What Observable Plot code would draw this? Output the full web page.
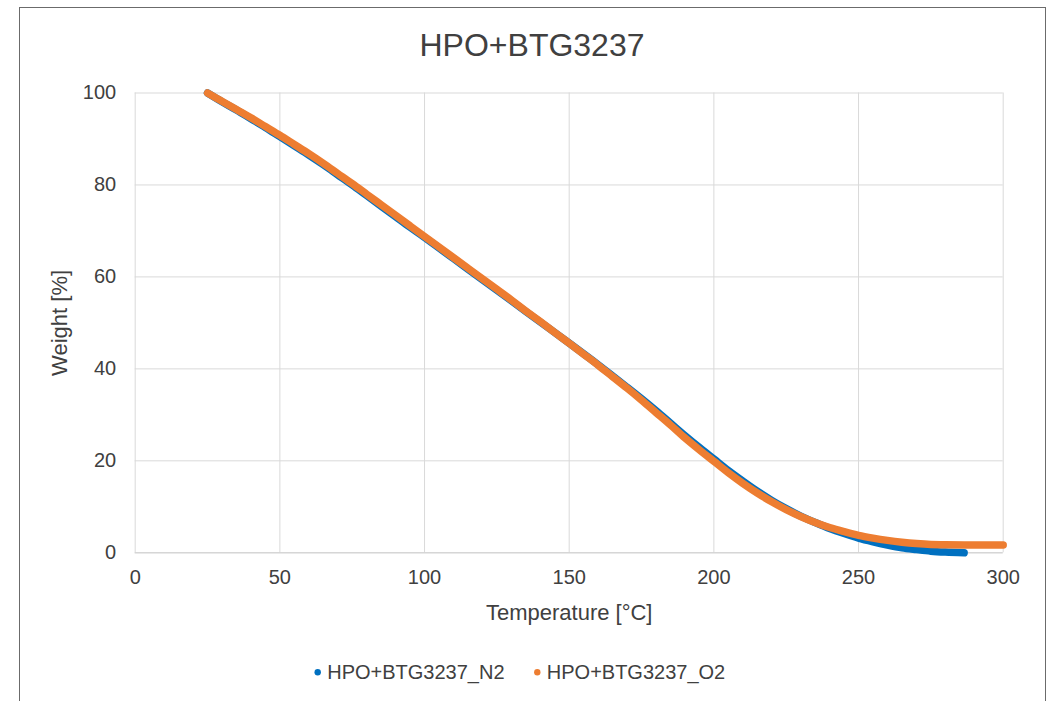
<!DOCTYPE html>
<html>
<head>
<meta charset="utf-8">
<script src="https://cdn.jsdelivr.net/npm/d3@7"></script>
<script src="https://cdn.jsdelivr.net/npm/@observablehq/plot@0.6"></script>
<style>
  html, body { margin: 0; padding: 0; background: #fff; }
  #chart { position: relative; width: 1052px; height: 701px; overflow: hidden; }
</style>
</head>
<body>
<div id="chart"></div>
<script>
// TGA curves: residual weight vs. temperature, under nitrogen and under oxygen
const chartTitle = "HPO+BTG3237";
const xLabel = "Temperature [°C]";
const yLabel = "Weight [%]";
const seriesNames = ["HPO+BTG3237_N2", "HPO+BTG3237_O2"];
const seriesColors = ["#0070C0", "#ED7D31"];

const xTicks = [0, 50, 100, 150, 200, 250, 300];
const yTicks = [0, 20, 40, 60, 80, 100];

// Nitrogen run
const tempN2 = [25, 30, 35, 40, 45, 50, 55, 60, 65, 70, 75, 80, 85, 90, 95, 100,
  110, 120, 130, 140, 150, 160, 170, 175, 180, 185, 190, 195, 200, 205, 210, 215,
  220, 225, 230, 235, 240, 245, 250, 255, 260, 265, 270, 275, 280, 286.5];
const weightN2 = [100, 98.1, 96.3, 94.4, 92.5, 90.5, 88.5, 86.5, 84.4, 82.2, 80.0, 77.7, 75.4, 73.1, 70.8, 68.6,
  64.0, 59.4, 54.8, 50.2, 45.6, 40.9, 36.0, 33.5, 30.9, 28.2, 25.5, 22.9, 20.4, 17.9, 15.6, 13.4,
  11.4, 9.6, 8.0, 6.6, 5.3, 4.2, 3.2, 2.4, 1.7, 1.1, 0.7, 0.35, 0.15, 0.0];

// Oxygen run
const tempO2 = [25, 30, 35, 40, 45, 50, 55, 60, 65, 70, 75, 80, 85, 90, 95, 100,
  105, 110, 115, 120, 125, 130, 135, 140, 145, 150, 155, 160, 165, 170, 175, 180,
  185, 190, 195, 200, 205, 210, 215, 220, 225, 230, 235, 240, 245, 250, 255, 260,
  265, 270, 275, 280, 290, 300];
const weightO2 = [100, 98.2, 96.4, 94.6, 92.7, 90.8, 88.8, 86.8, 84.7, 82.5, 80.3, 78.0, 75.7, 73.4, 71.1, 68.8,
  66.5, 64.2, 61.9, 59.6, 57.3, 55.0, 52.6, 50.3, 47.9, 45.6, 43.2, 40.8, 38.3, 35.8, 33.2, 30.5,
  27.8, 25.0, 22.4, 19.9, 17.4, 15.1, 13.0, 11.1, 9.4, 7.9, 6.6, 5.5, 4.6, 3.8, 3.2, 2.7,
  2.3, 2.0, 1.8, 1.75, 1.7, 1.7];

const n2 = tempN2.map((t, i) => ({T: t, W: weightN2[i]}));
const o2 = tempO2.map((t, i) => ({T: t, W: weightO2[i]}));

const W = 1052, H = 701;
const font = "'Liberation Sans', Arial, sans-serif";
const textColor = "#404040";
const gridColor = "#d9d9d9";

const plot = Plot.plot({
  width: W,
  height: H,
  marginLeft: 134.7,
  marginRight: 49.3,
  marginTop: 92.5,
  marginBottom: 148.7,
  style: {fontFamily: font, fontSize: "20px", color: textColor, background: "transparent"},
  x: {domain: [0, 300]},
  y: {domain: [0, 100]},
  marks: [
    Plot.gridX(xTicks, {stroke: gridColor, strokeOpacity: 1}),
    Plot.gridY(yTicks, {stroke: gridColor, strokeOpacity: 1}),
    Plot.ruleY([0], {stroke: "#d0d0d0", strokeWidth: 1}),
    Plot.axisX({ticks: xTicks, tickSize: 0, tickPadding: 17, fontSize: 20,
      label: xLabel, labelArrow: "none", labelAnchor: "center", labelOffset: 67, fill: textColor}),
    Plot.axisY({ticks: yTicks, tickSize: 0, tickPadding: 19, fontSize: 20,
      label: yLabel, labelArrow: "none", labelAnchor: "center", labelOffset: 84, fill: textColor}),
    Plot.line(n2, {x: "T", y: "W", stroke: seriesColors[0], strokeWidth: 7.5,
      strokeLinecap: "round", strokeLinejoin: "round", curve: "catmull-rom"}),
    Plot.line(o2, {x: "T", y: "W", stroke: seriesColors[1], strokeWidth: 7.5,
      strokeLinecap: "round", strokeLinejoin: "round", curve: "catmull-rom"})
  ]
});

const svg = d3.select(plot);

// Axis-label font size
svg.selectAll("g[aria-label='x-axis label'] text, g[aria-label='y-axis label'] text")
  .attr("font-size", 22);

// Chart frame
svg.insert("rect", ":first-child")
  .attr("x", 19.5).attr("y", 7.5).attr("width", 1026).attr("height", 720)
  .attr("fill", "none").attr("stroke", "#6b6b6b").attr("stroke-width", 1);

// Title
svg.append("text")
  .attr("x", 532).attr("y", 55.7)
  .attr("text-anchor", "middle")
  .attr("font-family", font).attr("font-size", 32)
  .attr("fill", textColor)
  .text(chartTitle);

// Legend
const legend = svg.append("g")
  .attr("font-family", font).attr("font-size", 20)
  .attr("fill", textColor).attr("text-anchor", "start");
const legendX = [317.7, 537.3];
seriesNames.forEach((name, i) => {
  legend.append("circle").attr("cx", legendX[i]).attr("cy", 672.3).attr("r", 3.2).attr("fill", seriesColors[i]);
  legend.append("text").attr("x", legendX[i] + 9.5).attr("y", 679).attr("text-anchor", "start").text(name);
});

document.getElementById("chart").appendChild(plot);
</script>
</body>
</html>
